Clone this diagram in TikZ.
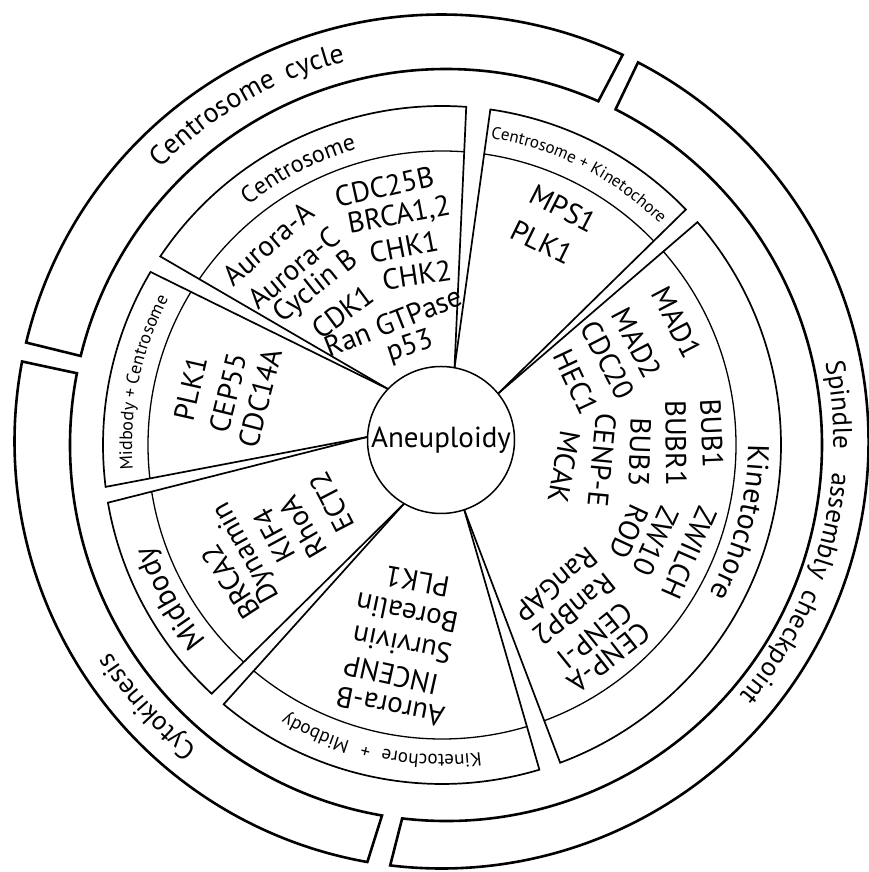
\documentclass[tikz,border=0pt]{standalone}
\usepackage{fontspec}
\setmainfont{PT Sans}
\usetikzlibrary{calc,decorations.text}
\begin{document}
\begin{tikzpicture}[x=1pt,y=1pt,
  ringline/.style={line width=2.6pt, line join=miter},
  secline/.style={line width=1.7pt, line join=miter},
  bandline/.style={line width=1.3pt},
  word/.style={font=\fontsize{29}{31}\selectfont, inner sep=0pt},
]
\useasboundingbox (0,0) rectangle (869,872);
\fill[white] (0,0) rectangle (869,872);
\coordinate (O) at (442,427);
\coordinate (Oc) at (441,432);
\coordinate (Oo) at (441.5,430.5);
\coordinate (Oi) at (446,427);

% outer ring segments
\draw[ringline] ($(Oo)+(166.6:427)$) arc[start angle=166.6, end angle=64.9, radius=427] -- ($(Oi)+(66.1:376)$) arc[start angle=66.1, end angle=166.3, radius=376] -- cycle;
\draw[ringline] ($(Oo)+(62.6:427)$) arc[start angle=62.6, end angle=-96.9, radius=427] -- ($(Oi)+(-96.7:376)$) arc[start angle=-96.7, end angle=63.2, radius=376] -- cycle;
\draw[ringline] ($(Oo)+(-100:427)$) arc[start angle=-100, end angle=-190.8, radius=427] -- ($(Oi)+(-191:376)$) arc[start angle=-191, end angle=-99.8, radius=376] -- cycle;

% sectors
\foreach \aa/\ba/\bb/\ab in {136.1/146.2/85.9/79.4, 79.4/81.8/44.0/39.1, 39.1/41.1/-69.6/-71.6, -71.6/-73.3/-130.1/-120.1, -120.1/-132.8/-170.2/-182.4, -182.4/-172.9/-210.7/-223.9}{
  \begin{scope}
    \clip ($(Oc)+(\aa:73.5)$) -- ($(O)+(\ba:339)$) arc[start angle=\ba, end angle=\bb, radius=339] -- ($(Oc)+(\ab:73.5)$) arc[start angle=\ab, end angle=\aa, radius=73.5] -- cycle;
    \draw[bandline] (O) circle[radius=294];
  \end{scope}
  \draw[secline] ($(Oc)+(\aa:73.5)$) -- ($(O)+(\ba:339)$) arc[start angle=\ba, end angle=\bb, radius=339] -- ($(Oc)+(\ab:73.5)$);
}

% outer ring labels
\path[decorate, decoration={text along path, text align=center, text={|\fontsize{28}{30}\selectfont|Centrosome}}] ($(Oo)+(165.3:392)$) arc[start angle=165.3, end angle=85.3, radius=392];
\path[decorate, decoration={text along path, text align=center, text={|\fontsize{28}{30}\selectfont|cycle}}] ($(Oo)+(138.6:392)$) arc[start angle=138.6, end angle=78.6, radius=392];
\path[decorate, decoration={text along path, text align=center, text={|\fontsize{27}{30}\selectfont|Spindle}}] ($(Oo)+(35.3:392)$) arc[start angle=35.3, end angle=-24.7, radius=392];
\path[decorate, decoration={text along path, text align=center, text={|\fontsize{27}{30}\selectfont|assembly}}] ($(Oo)+(17.7:392)$) arc[start angle=17.7, end angle=-42.3, radius=392];
\path[decorate, decoration={text along path, text align=center, text={|\fontsize{27}{30}\selectfont|checkpoint}}] ($(Oo)+(-1.2:392)$) arc[start angle=-1.2, end angle=-61.2, radius=392];
\path[decorate, decoration={text along path, text align=center, text={|\fontsize{27}{30}\selectfont|Cytokinesis}}] ($(Oo)+(-108:392)$) arc[start angle=-108, end angle=-168, radius=392];

% band labels
\path[decorate, decoration={text along path, text align=center, text={|\fontsize{24}{28}\selectfont|Centrosome}}] ($(O)+(157.5:308)$) arc[start angle=157.5, end angle=77.5, radius=308];
\path[decorate, decoration={text along path, text align=center, text={|\fontsize{17}{20}\selectfont|Centrosome + Kinetochore}}] ($(O)+(113.2:310.5)$) arc[start angle=113.2, end angle=13.2, radius=310.5];
\path[decorate, decoration={text along path, text align=center, text={|\fontsize{30}{32}\selectfont|Kinetochore}}] ($(O)+(25.5:306)$) arc[start angle=25.5, end angle=-54.5, radius=306];
\path[decorate, decoration={text along path, text align=center, text={|\fontsize{19}{22}\selectfont|Kinetochore}}] ($(O)+(-61.9:310)$) arc[start angle=-61.9, end angle=-121.9, radius=310];
\path[decorate, decoration={text along path, text align=center, text={|\fontsize{19}{22}\selectfont|+}}] ($(O)+(-84:310)$) arc[start angle=-84, end angle=-124, radius=310];
\path[decorate, decoration={text along path, text align=center, text={|\fontsize{19}{22}\selectfont|Midbody}}] ($(O)+(-88.7:310)$) arc[start angle=-88.7, end angle=-138.7, radius=310];
\path[decorate, decoration={text along path, text align=center, text={|\fontsize{30}{32}\selectfont|Midbody}}] ($(O)+(-120.6:306)$) arc[start angle=-120.6, end angle=-180.6, radius=306];
\path[decorate, decoration={text along path, text align=center, text={|\fontsize{18}{20}\selectfont|Midbody + Centrosome}}] ($(O)+(218.2:310)$) arc[start angle=218.2, end angle=118.2, radius=310];

% sector contents
\foreach \t/\r/\w [count=\i] in {
  130.8/266/Aurora-A, 102.6/264.7/CDC25B, 130.0/230.9/Aurora-C, 100.6/233/{BRCA1,2},
  128.6/201.5/Cyclin B, 100.9/201.8/CHK1, 126.7/165.8/CDK1, 98.4/171.8/CHK2,
  111.6/132.6/Ran GTPase, 108.1/103/p53,
  62.9/266/MPS1, 63.8/226/PLK1,
  27.6/265/MAD1, 27.6/220/MAD2, 27.1/186.5/CDC20, 25.2/148/HEC1,
  -5.4/160.7/CENP-E, -10.2/124/MCAK, 2.5/270/BUB1, 0.5/234/BUBR1, -2.0/198/BUB3,
  -23.6/269.6/ZWILCH, -24.2/234.5/ZW10, -24.9/206/ROD,
  -50.8/180.5/RanGAP, -51.3/211/RanBP2, -51.2/244/CENP-I, -51.9/270.7/CENP-A,
  -101.2/267/Aurora-B, -102.5/235.6/INCENP, -101.3/204/Survivin, -101.8/171.6/Borealin, -100.3/139/PLK1,
  -147/251.6/BRCA2, -151.2/222.4/Dynamin, -151.6/191/KIF4, -149.5/161.4/RhoA, -152.6/124/ECT2,
  167.3/258/PLK1, 166.3/220/CEP55, 165.5/188/CDC14A}{
  \node[word, rotate=\t-90] (w\i) at ($(O)+(\t:\r)$) {\w};
}

\node[circle, draw, line width=1.5pt, fill=white, minimum size=147pt, inner sep=0pt, font=\fontsize{29}{31}\selectfont] (aneu) at (Oc) {Aneuploidy};
\end{tikzpicture}
\end{document}
